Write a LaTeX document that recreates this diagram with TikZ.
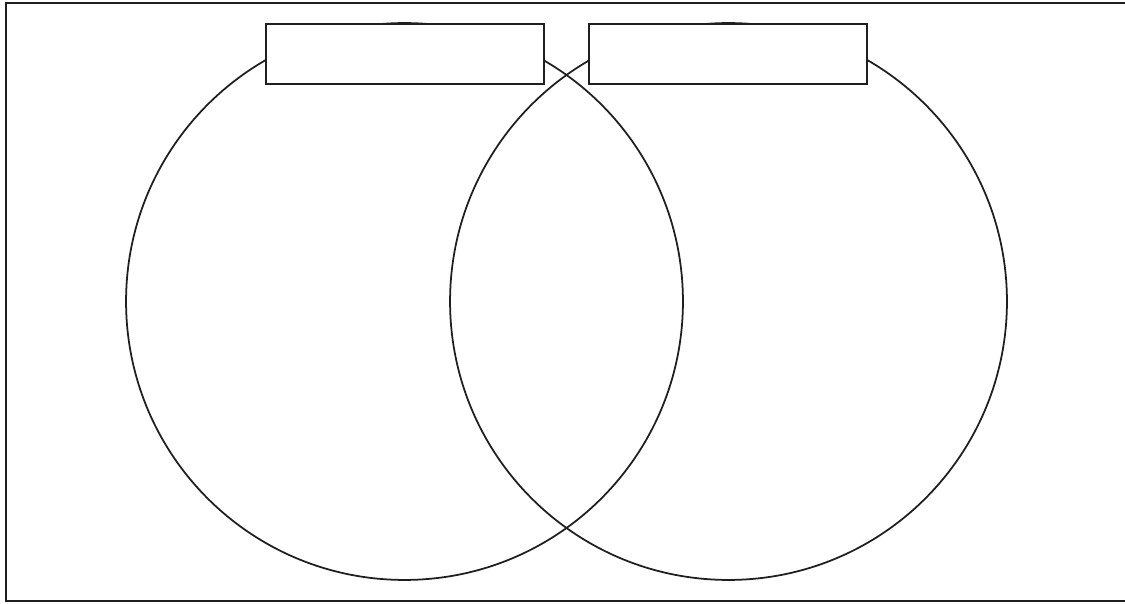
\documentclass[tikz,border=0pt]{standalone}
\begin{document}
\begin{tikzpicture}[x=0.02cm,y=-0.02cm,
  frame/.style={draw=black!88,line width=1.3pt},
  venn/.style={circle,draw=black!88,line width=1.0pt,minimum size=11.14cm,inner sep=0pt},
  label box/.style={rectangle,draw=black!88,fill=white,line width=1.3pt,minimum width=5.56cm,minimum height=1.2cm,inner sep=0pt}]
\useasboundingbox (0,0) rectangle (1125,604);
\fill[white] (0,0) rectangle (1125,604);
\draw[frame] (6,3) rectangle (1130,601);
\node[venn] (L) at (404.5,301.5) {};
\node[venn] (R) at (728.5,301.5) {};
\node[label box] (LB) at (405,54) {};
\node[label box] (RB) at (728,54) {};
\end{tikzpicture}
\end{document}
